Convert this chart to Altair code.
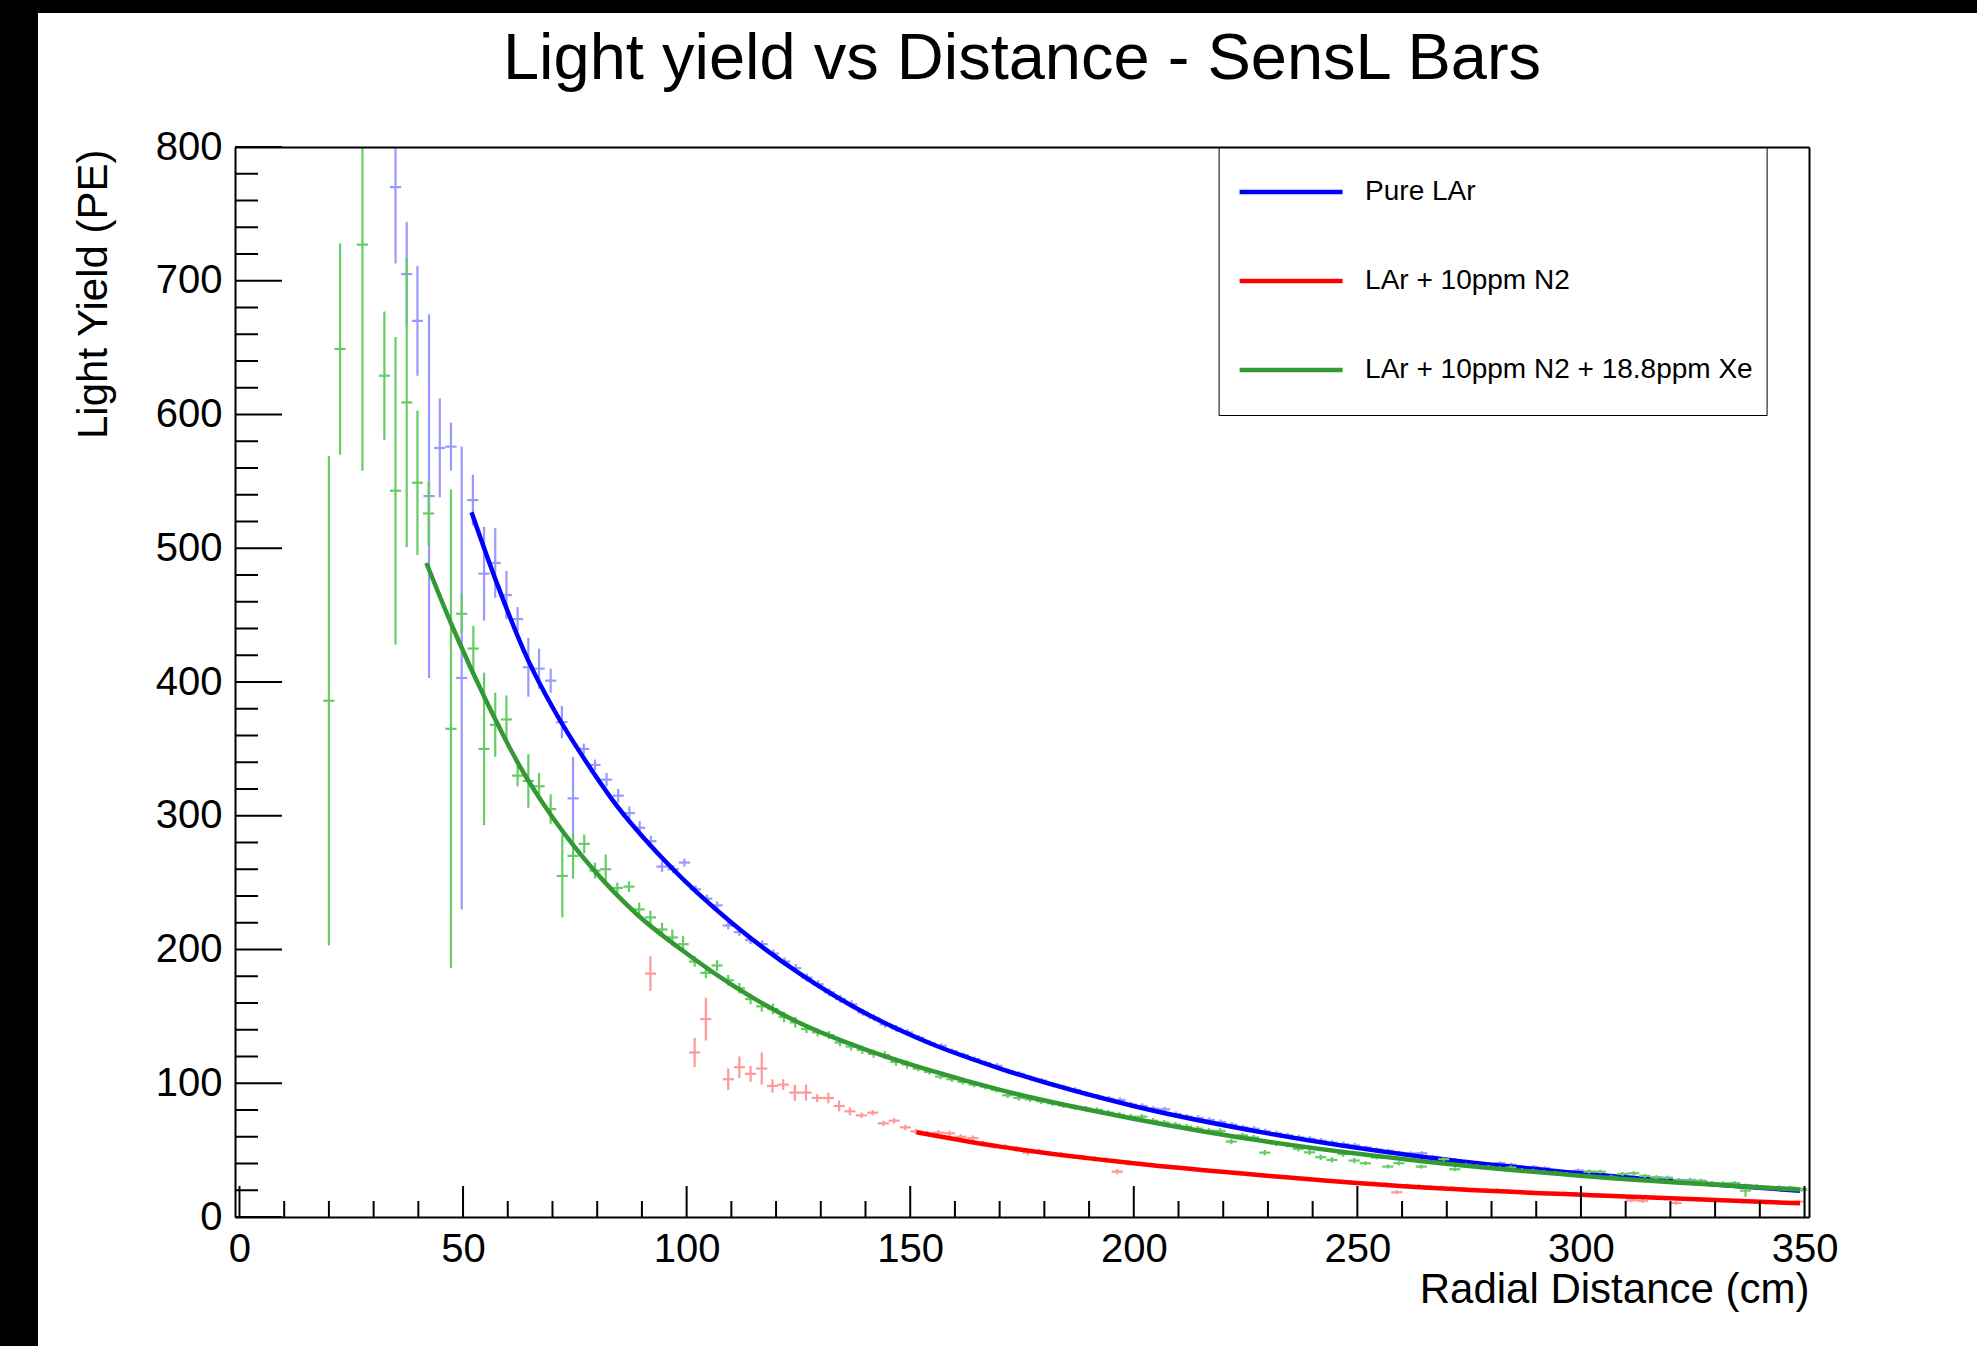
import altair as alt
import pandas as pd

# ---------------- text ----------------
TITLE = "Light yield vs Distance - SensL Bars"
X_TITLE = "Radial Distance (cm)"
Y_TITLE = "Light Yield (PE)"
SERIES = ["Pure LAr", "LAr + 10ppm N2", "LAr + 10ppm N2 + 18.8ppm Xe"]

# ---------------- data: Pure LAr ----------------
BLUE_X = [34.9, 37.4, 39.8, 42.4, 44.8, 47.3, 49.7, 52.2, 54.7, 57.2,
          59.7, 62.2, 64.6, 67.0, 69.6, 72.1, 74.6, 77.0, 79.5, 82.1,
          84.7, 87.2, 89.5, 92.0, 94.5, 97.0, 99.5, 102.0, 104.5, 106.8,
          109.3, 111.8, 114.3, 116.9,
          119.4, 121.9, 124.4, 126.9, 129.4, 131.9, 134.4, 136.9, 139.4, 141.9,
          144.4, 146.9, 149.4, 151.9, 154.4, 156.9, 159.4, 161.9, 164.4, 166.9,
          169.4, 171.9, 174.4, 176.9, 179.4, 181.9, 184.4, 186.9, 189.4, 191.9,
          194.4, 196.9, 199.4, 201.9, 204.4, 206.9, 209.4, 211.9, 214.4, 216.9,
          219.4, 221.9, 224.4, 226.9, 229.4, 231.9, 234.4, 236.9, 239.4, 241.9,
          244.4, 246.9, 249.4, 251.9, 254.4, 256.9, 259.4, 261.9, 264.4, 266.9,
          269.4, 271.9, 274.4, 276.9, 279.4, 281.9, 284.4, 286.9, 289.4, 291.9,
          294.4, 296.9, 299.4, 301.9, 304.4, 306.9, 309.4, 311.9, 314.4, 316.9,
          319.4, 321.9, 324.4, 326.9, 329.4, 331.9, 334.4, 336.9, 339.4, 341.9,
          344.4, 346.9, 349.4]
BLUE_Y = [770, 705, 670, 539, 575, 576, 403, 536, 481, 489,
          465, 447, 411, 410, 401, 370, 313, 350, 338, 327,
          315, 302, 291, 281, 262, 260, 265, 245, 238, 233,
          218, 213, 207, 204,
          197, 191, 186, 179, 174, 168, 163, 159, 153, 149,
          144, 141, 138, 134, 130, 128, 124, 121, 118, 115,
          113, 109, 107, 104, 102, 99, 97, 95, 92, 90,
          88.5, 87.5, 84, 83, 81, 80.5, 77, 75, 74, 72.5,
          71, 69, 67, 66, 64, 62.5, 61, 59.5, 58.5, 57,
          55.5, 54.5, 53.5, 52, 50.5, 49.5, 48, 47.5, 47.7, 45,
          43.5, 42.5, 41.5, 40.5, 39.5, 40.2, 39, 37.4, 37.4, 36.5,
          34.5, 33.5, 34.7, 33.9, 31.5, 30.5, 30, 29.5, 28.5, 29.7,
          28.5, 27.7, 27.7, 27, 25, 24.5, 25.2, 23.5, 22.5, 22,
          22.2, 21, 20.5]
BLUE_ERR = [57, 39, 41, 136, 37, 18, 173, 19, 35, 26,
            18, 9, 22, 15, 9, 12, 31, 4, 4, 5,
            5, 5, 5, 4, 4, 3, 3, 3, 3, 3,
            3, 3, 3, 3,
            3, 3, 3, 3, 3, 3, 3, 3, 2.5, 2.5,
            2.5, 2.5, 2.5, 2, 2, 2, 2, 2, 2, 2,
            2, 2, 2, 2, 2, 2, 2, 2, 2, 2,
            2, 2, 2, 2, 2, 2, 2, 2, 2, 2,
            2, 2, 2, 2, 2, 2, 2, 2, 2, 2,
            2, 2, 2, 1.5, 1.5, 1.5, 1.5, 1.5, 1.5, 1.5,
            1.5, 1.5, 1.5, 1.5, 1.5, 1.5, 1.5, 1.5, 1.5, 1.5,
            1.5, 1.5, 1.5, 1.5, 1.5, 1.5, 1.5, 1.5, 1.5, 1.5,
            1.5, 1.5, 1.5, 1.5, 1.5, 1.5, 1.5, 1.5, 1.5, 1.5,
            1.5, 1.5, 1.5]
BLUE_FIT_X = [51.9, 57.5, 64.6, 70.2, 77.6, 83.6, 95.5, 110.4, 125.3, 140.2,
              155.1, 170.1, 199.9, 229.7, 264.0, 304.2, 349.0]
BLUE_FIT_Y = [527, 474.5, 416, 380, 340, 311, 265, 219, 182, 152,
              129, 111, 83, 62.7, 45.2, 31.4, 19.6]

# ---------------- data: LAr + 10ppm N2 ----------------
RED_X = [91.9, 101.8, 104.3, 109.3, 111.8, 114.3, 116.8, 119.2, 121.6, 124.2,
         126.7, 129.2, 131.7, 134.1, 136.5, 139.1, 141.6, 144.0, 146.4, 148.9,
         151.3, 153.8, 156.3, 158.8, 161.3, 164.0,
         166.3, 168.8, 171.3, 173.8, 176.3, 178.8, 181.3, 183.8, 186.3, 188.8,
         191.3, 193.8, 196.3, 198.8, 201.3, 203.8, 206.3, 208.8, 211.3, 213.8,
         216.3, 218.8, 221.3, 223.8, 226.3, 228.8, 231.3, 233.8, 236.3, 238.8,
         241.3, 243.8, 246.3, 248.8, 251.3, 253.8, 256.3, 258.8, 261.3, 263.8,
         266.3, 268.8, 271.3, 273.8, 276.3, 278.8, 281.3, 283.8, 286.3, 288.8,
         291.3, 293.8, 296.3, 298.8, 301.3, 303.8, 306.3, 308.8, 311.3, 313.8,
         316.3, 318.8, 321.3, 323.8, 326.3, 328.8, 331.3, 333.8, 336.3, 338.8,
         341.3, 343.8, 346.3, 348.8]
RED_Y = [182, 123, 148, 103, 112, 107, 111, 98, 99, 93,
         93, 89, 89, 83, 79, 76, 78, 70, 72, 67,
         64, 62.5, 63, 62.6, 60, 59,
         55, 53, 52.5, 51, 48.2, 49, 47.5, 46.5, 45.5, 44.5,
         43.5, 42.5, 33.9, 40.5, 40, 39, 38, 37, 36.5, 35.5,
         35, 34, 33.5, 32.5, 32, 31.5, 30.5, 30, 29, 28.5,
         28, 27, 26.5, 26, 25.5, 25, 24.5, 18.5, 23.5, 23,
         22.5, 22, 21.5, 21, 20.5, 20, 20, 19.5, 19, 18.5,
         18, 17.5, 17.5, 17, 16.5, 16.5, 16, 15.5, 12.5, 12,
         14.5, 14, 10.5, 13.5, 13, 12.5, 12.5, 12, 11.5, 11.5,
         11, 11, 10.5, 11.5]
RED_ERR = [13, 11, 16, 8, 8, 6, 12, 5, 4, 6,
           6, 3, 4, 4, 3, 2, 2, 2, 2, 2,
           2, 2, 2, 2, 2, 2,
           2, 2, 2, 2, 2, 2, 2, 2, 2, 2,
           2, 2, 2, 2, 1.5, 1.5, 1.5, 1.5, 1.5, 1.5,
           1.5, 1.5, 1.5, 1.5, 1.5, 1.5, 1.5, 1.5, 1.5, 1.5,
           1.5, 1.5, 1.5, 1.5, 1.5, 1.5, 1.5, 1.5, 1.5, 1.5,
           1.5, 1.5, 1.5, 1.5, 1.5, 1.5, 1.5, 1.5, 1.5, 1.5,
           1.5, 1.5, 1.5, 1.5, 1.5, 1.5, 1.5, 1.5, 1.5, 1.5,
           1.5, 1.5, 1.5, 1.5, 1.5, 1.5, 1.5, 1.5, 1.5, 1.5,
           1.5, 1.5, 1.5, 1.5]
RED_FIT_X = [151.4, 170.1, 199.9, 229.7, 259.5, 304.2, 349.0]
RED_FIT_Y = [63.4, 52.6, 40.2, 30.9, 23.2, 16.0, 10.2]

# ---------------- data: LAr + 10ppm N2 + 18.8ppm Xe ----------------
GREEN_X = [20.0, 22.5, 27.5, 32.4, 34.9, 37.4, 39.8, 42.3, 47.3, 49.7,
           52.3, 54.7, 57.2, 59.7, 62.2, 64.6, 67.0, 69.6, 72.2, 74.6,
           77.1, 79.5, 81.9, 84.5, 87.1, 89.4, 91.9, 94.5, 96.8, 99.2,
           101.8, 104.3, 106.8, 109.3, 111.8, 114.3, 116.8, 119.3, 121.8, 124.3,
           126.8, 129.3, 131.8, 134.3, 136.8, 139.3, 141.8, 144.3, 146.8, 149.3,
           151.8, 154.3, 156.8, 159.3, 161.8, 164.3, 166.8, 169.3, 171.8, 174.3,
           176.8, 179.3, 181.8, 184.3, 186.8, 189.3, 191.8, 194.3, 196.8, 199.3,
           201.8, 204.3, 206.8, 209.3, 211.8, 214.3, 216.8, 219.3, 221.8, 224.3,
           226.8, 229.3, 231.8, 234.3, 236.8, 239.3, 241.8, 244.3, 246.8, 249.3,
           251.8, 254.3, 256.8, 259.3, 261.8, 264.3, 266.8, 269.3, 271.8, 274.3,
           276.8, 279.3, 281.8, 284.3, 286.8, 289.3, 291.8, 294.3, 296.8, 299.3,
           301.8, 304.3, 306.8, 309.3, 311.8, 314.3, 316.8, 319.3, 321.8, 324.3,
           326.8, 329.3, 331.8, 334.3, 336.8, 339.3, 341.8, 344.3, 346.8, 349.3]
GREEN_Y = [386, 649, 727, 629, 543, 609, 549, 526, 365, 451,
           425, 350, 368, 372, 330, 326, 322, 305, 255, 270,
           279, 259, 260, 246, 247, 230, 224, 215, 209, 204,
           191, 182.5, 188, 177, 171, 163, 157.5, 155.5, 149.5, 145.5,
           140.5, 138, 136, 130.5, 127.5, 125, 122, 121, 116, 114,
           111, 108.5, 105, 103, 101, 99, 97.5, 95, 91, 89,
           88, 86.5, 85, 83.5, 82, 81, 80, 78, 76.4, 75,
           75, 72, 70.5, 69, 67.5, 66, 64.5, 64.4, 56.4, 61,
           59.4, 48.1, 55, 54, 51, 48.4, 44.7, 42.7, 47, 42.2,
           40.2, 44.5, 37.7, 40.2, 42.5, 37.7, 41, 43.2, 35.7, 39,
           38, 37.5, 36.5, 37, 35, 34.5, 33.5, 33, 32, 31,
           33.9, 33.9, 30, 32.2, 32.7, 30.7, 29.5, 29.4, 27.5, 27,
           27, 25.5, 25.2, 25.2, 19.7, 23, 22, 21.5, 22, 20.7]
GREEN_ERR = [183, 79, 169, 48, 115, 108, 54, 24, 179, 15,
             17, 57, 24, 18, 8, 20, 10, 11, 31, 17,
             7, 6, 11, 4, 4, 5, 5, 5, 6, 6,
             4, 4, 4, 4, 4, 4, 4, 4, 4, 4,
             3, 3, 3, 3, 3, 3, 3, 3, 3, 3,
             2, 2, 2, 2, 2, 2, 2, 2, 2, 2,
             2, 2, 2, 2, 2, 2, 2, 2, 2, 2,
             2, 2, 2, 2, 2, 2, 2, 2, 2, 2,
             2, 2, 2, 2, 2, 2, 2, 2, 2, 2,
             1.5, 1.5, 1.5, 1.5, 1.5, 1.5, 1.5, 1.5, 1.5, 1.5,
             1.5, 1.5, 1.5, 1.5, 1.5, 1.5, 1.5, 1.5, 1.5, 1.5,
             1.5, 1.5, 1.5, 1.5, 1.5, 1.5, 1.5, 1.5, 1.5, 1.5,
             1.5, 1.5, 1.5, 1.5, 4.5, 1.5, 1.5, 1.5, 1.5, 1.5]
GREEN_FIT_X = [41.8, 47.8, 55.3, 62.7, 70.2, 79.1, 89.0, 100.0, 110.4, 125.3,
               140.2, 155.1, 170.1, 199.9, 229.7, 264.0, 304.2, 349.0]
GREEN_FIT_Y = [489, 440, 385, 337, 298, 260, 226, 197, 173, 145,
               125, 109, 95, 73.5, 56.4, 41.9, 29.7, 20.5]

# axis tick values
Y_MAJOR = [0, 100, 200, 300, 400, 500, 600, 700, 800]
X_MAJOR = [0, 50, 100, 150, 200, 250, 300, 350]

# ---------------- style ----------------
FIT_COLORS = ["#0000ff", "#ff0000", "#339933"]
PT_COLORS = ["#9999ff", "#ff9999", "#66cc66"]
FONT = "Liberation Sans"
W, H = 1574, 1070
X_HALF = 1.25

xscale = alt.Scale(domain=[-1.0, 351.0], nice=False, zero=False)
yscale = alt.Scale(domain=[0, 800], nice=False, zero=False)

legend = alt.Legend(
    title=None, orient="none", legendX=983.6, legendY=0,
    symbolType="stroke", symbolSize=10609, symbolStrokeWidth=4.5,
    symbolOffset=5, clipHeight=63,
    labelFont=FONT, labelFontSize=28, labelColor="black", labelOffset=20,
    labelLimit=1000,
    padding=13.5, rowPadding=26, strokeColor="black", fillColor="white",
)
color_scale = alt.Scale(domain=SERIES, range=FIT_COLORS)


def point_layers(xs, ys, es, color):
    df = pd.DataFrame({"x": xs, "y": ys, "e": es})
    base = alt.Chart(df)
    vert = base.mark_rule(color=color, strokeWidth=2.2, clip=True).transform_calculate(
        lo="datum.y - datum.e", hi="datum.y + datum.e"
    ).encode(
        x=alt.X("x:Q", scale=xscale, axis=None),
        y=alt.Y("lo:Q", scale=yscale, axis=None),
        y2="hi:Q",
    )
    horiz = base.mark_rule(color=color, strokeWidth=2.2, clip=True).transform_calculate(
        xl=f"datum.x - {X_HALF}", xr=f"datum.x + {X_HALF}"
    ).encode(
        x=alt.X("xl:Q", scale=xscale, axis=None),
        x2="xr:Q",
        y=alt.Y("y:Q", scale=yscale, axis=None),
    )
    return [vert, horiz]


def fit_layer(xs, ys, name):
    df = pd.DataFrame({"x": xs, "y": ys, "series": [name] * len(xs)})
    return alt.Chart(df).mark_line(strokeWidth=4.5, interpolate="monotone", clip=True).encode(
        x=alt.X("x:Q", scale=xscale, axis=None),
        y=alt.Y("y:Q", scale=yscale, axis=None),
        color=alt.Color("series:N", scale=color_scale, legend=legend),
    )


# white page area (the reference screenshot has a black border top/left)
bg = alt.Chart(pd.DataFrame({"a": [0]})).mark_rect(color="white").encode(
    x=alt.value(-197), x2=alt.value(1742), y=alt.value(-134), y2=alt.value(1199)
)

# chart title as a text mark centred over the plot
title_mark = alt.Chart(pd.DataFrame({"t": [TITLE]})).mark_text(
    font=FONT, fontSize=65, color="black", align="center", baseline="alphabetic"
).encode(text="t:N", x=alt.value(W / 2), y=alt.value(-68))

ymaj_df = pd.DataFrame({"v": Y_MAJOR})
ymin_df = pd.DataFrame({"v": [v for v in range(0, 801, 20) if v % 100 != 0]})
xmaj_df = pd.DataFrame({"v": X_MAJOR})
xmin_df = pd.DataFrame({"v": [v for v in range(0, 351, 10) if v % 50 != 0]})

y_axis = alt.Axis(
    orient="left", values=Y_MAJOR, ticks=False, grid=False, domain=True,
    domainColor="black", domainWidth=2, labelFont=FONT, labelFontSize=40,
    labelColor="black", labelPadding=13, title=Y_TITLE, titleFont=FONT,
    titleFontSize=42, titleFontWeight="normal", titleColor="black",
    titleAngle=270, titleAlign="right", titleBaseline="alphabetic",
    titleX=-129, titleY=2, zindex=1,
)
x_axis = alt.Axis(
    orient="bottom", values=X_MAJOR, ticks=False, grid=False, domain=True,
    domainColor="black", domainWidth=2, labelFont=FONT, labelFontSize=40,
    labelColor="black", labelPadding=12, labelFlush=False, title=X_TITLE,
    titleFont=FONT, titleFontSize=42, titleFontWeight="normal",
    titleColor="black", titleAlign="right", titleAnchor="end",
    titleBaseline="alphabetic", titleX=W, titleY=85, zindex=1,
)
top_axis = alt.Axis(orient="top", labels=False, ticks=False, grid=False,
                    domain=True, domainColor="black", domainWidth=2,
                    title=None, zindex=1)
right_axis = alt.Axis(orient="right", labels=False, ticks=False, grid=False,
                      domain=True, domainColor="black", domainWidth=2,
                      title=None, zindex=1)

ymaj = alt.Chart(ymaj_df).mark_rule(color="black", strokeWidth=2).encode(
    y=alt.Y("v:Q", scale=yscale, axis=y_axis), x=alt.value(0), x2=alt.value(47))
ymin = alt.Chart(ymin_df).mark_rule(color="black", strokeWidth=2).encode(
    y=alt.Y("v:Q", scale=yscale, axis=right_axis), x=alt.value(0), x2=alt.value(23))
xmaj = alt.Chart(xmaj_df).mark_rule(color="black", strokeWidth=2).encode(
    x=alt.X("v:Q", scale=xscale, axis=x_axis), y=alt.value(H), y2=alt.value(H - 31))
xmin = alt.Chart(xmin_df).mark_rule(color="black", strokeWidth=2).encode(
    x=alt.X("v:Q", scale=xscale, axis=top_axis), y=alt.value(H), y2=alt.value(H - 16))

layers = [bg, title_mark]
layers += point_layers(BLUE_X, BLUE_Y, BLUE_ERR, PT_COLORS[0])
layers.append(fit_layer(BLUE_FIT_X, BLUE_FIT_Y, SERIES[0]))
layers += point_layers(RED_X, RED_Y, RED_ERR, PT_COLORS[1])
layers.append(fit_layer(RED_FIT_X, RED_FIT_Y, SERIES[1]))
layers += point_layers(GREEN_X, GREEN_Y, GREEN_ERR, PT_COLORS[2])
layers.append(fit_layer(GREEN_FIT_X, GREEN_FIT_Y, SERIES[2]))
layers += [ymaj, ymin, xmaj, xmin]

chart = alt.layer(*layers).resolve_axis(x="independent", y="independent").properties(
    width=W, height=H,
    background="black",
    padding={"left": 38, "top": 13, "right": 0, "bottom": 0},
).configure_view(strokeWidth=0)

chart.save("out.html", embed_options={"renderer": "svg", "actions": False})
